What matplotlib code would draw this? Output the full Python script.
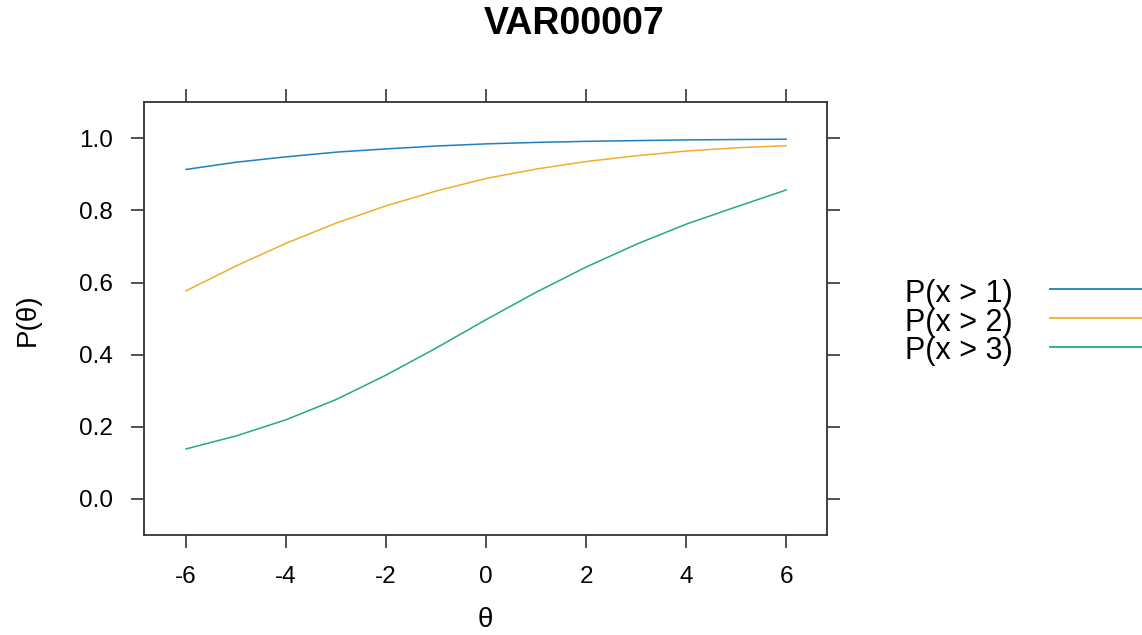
import numpy as np
import matplotlib
matplotlib.use("Agg")
import matplotlib.pyplot as plt
from matplotlib.lines import Line2D

plt.rcParams['font.family'] = ['Liberation Sans', 'DejaVu Sans']

# values at integer theta
theta = [-6, -5, -4, -3, -2, -1, 0, 1, 2, 3, 4, 5, 6]
p_gt1 = [0.914, 0.934, 0.949, 0.962, 0.971, 0.979, 0.985, 0.989, 0.992, 0.994, 0.996, 0.997, 0.998]
p_gt2 = [0.577, 0.646, 0.709, 0.765, 0.813, 0.854, 0.889, 0.915, 0.936, 0.952, 0.965, 0.974, 0.980]
p_gt3 = [0.138, 0.174, 0.219, 0.275, 0.343, 0.418, 0.497, 0.573, 0.643, 0.706, 0.762, 0.810, 0.857]

labels = ["P(x > 1)", "P(x > 2)", "P(x > 3)"]
colors = ["#1f80c0", "#f0ae2c", "#22aa84"]
xticks = [-6, -4, -2, 0, 2, 4, 6]
yticks = [0.0, 0.2, 0.4, 0.6, 0.8, 1.0]

fig = plt.figure(figsize=(11.42, 6.35), dpi=100)
ax = fig.add_axes([0.1257, 0.1575, 0.5982, 0.6823])

for ys, c in zip([p_gt1, p_gt2, p_gt3], colors):
    ax.plot(theta, ys, color=c, lw=1.1)

ax.set_xlim(-6.85, 6.81)
ax.set_ylim(-0.101, 1.102)
ax.set_xticks(xticks)
ax.set_xticklabels([str(t) for t in xticks])
ax.set_yticks(yticks)
ax.set_yticklabels(["%.1f" % t for t in yticks])

for s in ax.spines.values():
    s.set_color("#333333")
    s.set_linewidth(1.3)
ax.tick_params(direction='out', length=9.5, width=1.2, color="#333333",
               top=True, right=True, labelsize=17.5, pad=12.5)

fig.suptitle("VAR00007", x=0.503, y=0.99, fontsize=27, fontweight='bold', va='top')
fig.text(485 / 1142, 1 - 620 / 635, "θ", fontsize=20, ha='center', va='center')
fig.text(28 / 1142, 1 - 320 / 635, "P(θ)", fontsize=20, ha='center', va='center', rotation=90)

# legend on the right, text then line
row_y = [294, 322.5, 351]
for lab, c, yy in zip(labels, colors, row_y):
    fig.text(905 / 1142, 1 - yy / 635, lab, fontsize=22, ha='left', va='center')
    fig.add_artist(Line2D([1050 / 1142, 1.0], [1 - (yy - 4.5) / 635] * 2,
                          color=c, lw=1.3, transform=fig.transFigure))

fig.savefig("out.png", dpi=100)
